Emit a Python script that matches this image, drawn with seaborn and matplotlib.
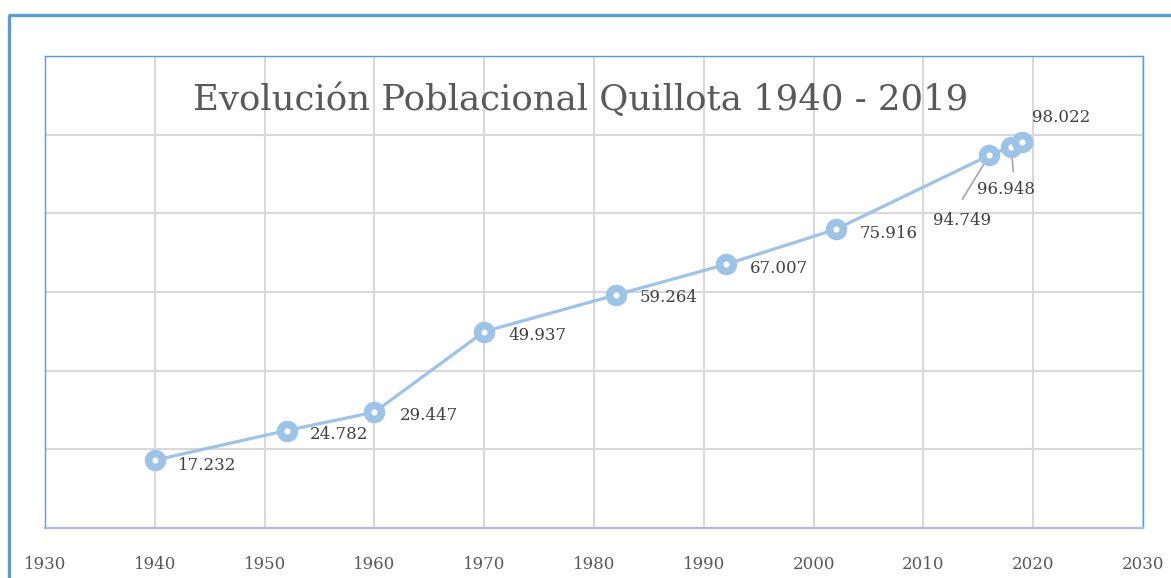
import matplotlib
matplotlib.use("Agg")
import matplotlib.pyplot as plt
import seaborn as sns
import pandas as pd
from matplotlib.lines import Line2D

# data
years = [1940, 1952, 1960, 1970, 1982, 1992, 2002, 2016, 2018, 2019]
population = [17232, 24782, 29447, 49937, 59264, 67007, 75916, 94749, 96948, 98022]
labels = ["17.232", "24.782", "29.447", "49.937", "59.264", "67.007",
          "75.916", "94.749", "96.948", "98.022"]
x_ticks = [1930, 1940, 1950, 1960, 1970, 1980, 1990, 2000, 2010, 2020, 2030]
y_grid = [20000, 40000, 60000, 80000, 100000]
title = "Evolución Poblacional Quillota 1940 - 2019"

df = pd.DataFrame({"year": years, "pop": population})

line_color = "#9DC3E6"
frame_color = "#5B9BD5"
font = "DejaVu Serif"

sns.set_style("white")
plt.rcParams["font.family"] = [font, "DejaVu Sans"]

fig = plt.figure(figsize=(11.71, 5.78), dpi=100)
W, H = 1171, 578
ax = fig.add_axes([45 / W, (578 - 528) / H, (1143 - 45) / W, (528 - 56) / H])

sns.lineplot(data=df, x="year", y="pop", ax=ax, color=line_color, linewidth=2.3,
             marker="o", markersize=10, markerfacecolor="white",
             markeredgecolor=line_color, markeredgewidth=5.5, zorder=3)

ax.set_xlim(1930, 2030)
ax.set_ylim(0, 120000)
ax.set_xticks(x_ticks)
ax.set_xticklabels([str(t) for t in x_ticks], fontsize=12, color="#595959")
ax.set_yticks(y_grid)
ax.set_yticklabels([])
ax.tick_params(axis="x", length=0, pad=20)
ax.tick_params(axis="y", length=0)
ax.set_xlabel("")
ax.set_ylabel("")
ax.grid(True, color="#D9D9D9", linewidth=1.5)
ax.set_axisbelow(True)

for side in ["left", "top", "right"]:
    ax.spines[side].set_color(frame_color)
    ax.spines[side].set_linewidth(1.0)
ax.spines["bottom"].set_color("#A9BFD6")
ax.spines["bottom"].set_linewidth(1.6)

# data labels (offsets in pixels)
offsets = [(23, -5), (23, -4), (25, -3), (24, -4), (24, -3), (24, -4), (24, -4),
           (-27, -65), (-5, -43), (39, 25)]
aligns = ["left"] * 7 + ["center"] * 3
for i, (xv, yv, lab) in enumerate(zip(years, population, labels)):
    dx, dy = offsets[i]
    ax.annotate(lab, (xv, yv), xytext=(dx, dy), textcoords="offset pixels",
                ha=aligns[i], va="center", fontsize=12, color="#404040", zorder=4)

# leader lines for the crowded points
ax.annotate("", (2016, 94749), xytext=(-27, -44), textcoords="offset pixels",
            arrowprops=dict(arrowstyle="-", color="#A6A6A6", lw=1.2,
                            shrinkA=0, shrinkB=2), zorder=2.5)
ax.annotate("", (2018, 96948), xytext=(2, -25), textcoords="offset pixels",
            arrowprops=dict(arrowstyle="-", color="#A6A6A6", lw=1.2,
                            shrinkA=0, shrinkB=2), zorder=2.5)

ax.text(0.488, 0.907, title, transform=ax.transAxes, ha="center", va="center",
        fontsize=25.6, color="#595959")

# outer chart frame
fig.add_artist(Line2D([9 / W, 9 / W], [0, 1 - 15 / H], color=frame_color, lw=2.4,
                      transform=fig.transFigure, solid_capstyle="butt"))
fig.add_artist(Line2D([8 / W, 1], [1 - 15 / H, 1 - 15 / H], color=frame_color, lw=2.4,
                      transform=fig.transFigure, solid_capstyle="butt"))

fig.savefig("out.png", dpi=100)
